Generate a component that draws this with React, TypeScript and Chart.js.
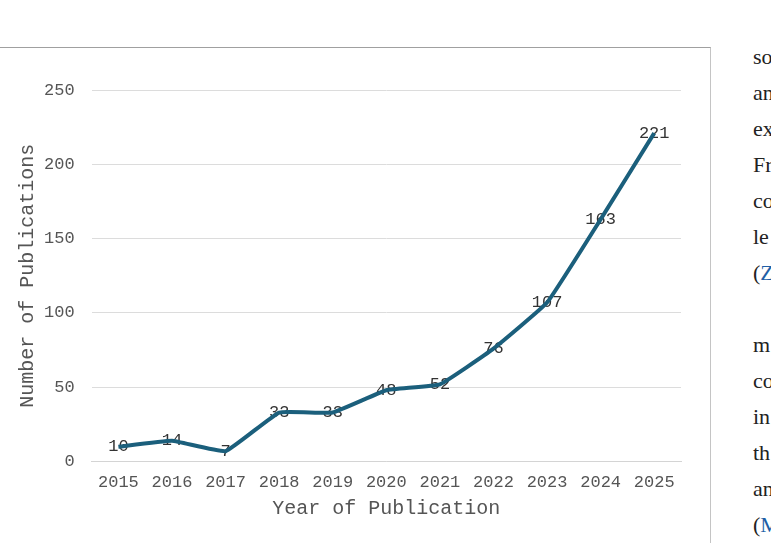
import React, { useEffect, useRef } from "react";
import { Chart, registerables } from "chart.js";

Chart.register(...registerables);

// Publications per year
const years: string[] = ["2015", "2016", "2017", "2018", "2019", "2020", "2021", "2022", "2023", "2024", "2025"];
const publications: number[] = [10, 14, 7, 33, 33, 48, 52, 76, 107, 163, 221];
const yTickMax = 250;
const yTickStep = 50;

// Fragments of the body text beside the figure (clipped by the page edge)
const sideLines: { text: string; link?: string }[] = [
  { text: "so" },
  { text: "an" },
  { text: "ex" },
  { text: "Fr" },
  { text: "co" },
  { text: "le" },
  { text: "(", link: "Z" },
  { text: "" },
  { text: "m" },
  { text: "co" },
  { text: "in" },
  { text: "th" },
  { text: "an" },
  { text: "(", link: "M" },
];

const MONO = "'Liberation Mono', 'DejaVu Sans Mono', monospace";

const valueLabels = {
  id: "valueLabels",
  beforeDatasetsDraw(chart: any) {
    const { ctx } = chart;
    const meta = chart.getDatasetMeta(0);
    const data = chart.data.datasets[0].data as number[];
    ctx.save();
    ctx.font = `17px ${MONO}`;
    ctx.fillStyle = "#333333";
    ctx.textAlign = "center";
    ctx.textBaseline = "middle";
    meta.data.forEach((pt: any, i: number) => {
      ctx.fillText(String(data[i]), pt.x, pt.y);
    });
    ctx.restore();
  },
};

function PublicationsChart() {
  const ref = useRef<HTMLCanvasElement | null>(null);

  useEffect(() => {
    if (!ref.current) return;
    const chart = new Chart(ref.current, {
      type: "line",
      data: {
        labels: years,
        datasets: [
          {
            data: publications,
            borderColor: "#1b5f7c",
            borderWidth: 4,
            pointRadius: 0,
            tension: 0.1,
            fill: false,
          },
        ],
      },
      options: {
        responsive: false,
        animation: false,
        layout: { padding: { left: 12, right: 19, top: 42, bottom: 18 } },
        plugins: {
          legend: { display: false },
          tooltip: { enabled: false },
        },
        scales: {
          x: {
            offset: true,
            grid: { display: false, drawTicks: true, tickLength: 11, tickColor: "rgba(0,0,0,0)" },
            border: { display: true, color: "#d4d4d4", width: 1 },
            ticks: {
              color: "#555555",
              font: { family: MONO, size: 17 },
              padding: 0,
              maxRotation: 0,
              autoSkip: false,
            },
            title: {
              display: true,
              text: "Year of Publication",
              color: "#555555",
              font: { family: MONO, size: 20 },
            },
          },
          y: {
            min: 0,
            max: yTickMax,
            grid: { color: "#dcdcdc", drawTicks: true, tickLength: 17, tickColor: "rgba(0,0,0,0)" },
            border: { display: false },
            ticks: {
              stepSize: yTickStep,
              color: "#555555",
              font: { family: MONO, size: 17 },
              padding: 0,
            },
            title: {
              display: true,
              text: "Number of Publications",
              color: "#555555",
              font: { family: MONO, size: 20 },
            },
          },
        },
      },
      plugins: [valueLabels],
    });
    return () => chart.destroy();
  }, []);

  return <canvas ref={ref} width={700} height={495} style={{ position: "absolute", left: 0, top: 48 }} />;
}

export default function App() {
  return (
    <div
      style={{
        position: "fixed",
        left: 0,
        top: 0,
        width: 771,
        height: 543,
        overflow: "hidden",
        background: "#ffffff",
      }}
    >
      <div
        style={{
          position: "absolute",
          left: -10,
          top: 47,
          width: 721,
          height: 540,
          boxSizing: "border-box",
          borderTop: "1px solid #a0a0a0",
          borderRight: "1px solid #c4c4c4",
          borderLeft: "1px solid #a0a0a0",
        }}
      />
      <PublicationsChart />
      <div
        style={{
          position: "absolute",
          left: 753,
          top: 39,
          fontFamily: "'Liberation Serif', 'Times New Roman', serif",
          fontSize: 22,
          lineHeight: "36px",
          color: "#222222",
          whiteSpace: "nowrap",
        }}
      >
        {sideLines.map((l, i) => (
          <div key={i} style={{ height: 36 }}>
            {l.text}
            {l.link ? <span style={{ color: "#1f5fa6" }}>{l.link}</span> : null}
          </div>
        ))}
      </div>
    </div>
  );
}
